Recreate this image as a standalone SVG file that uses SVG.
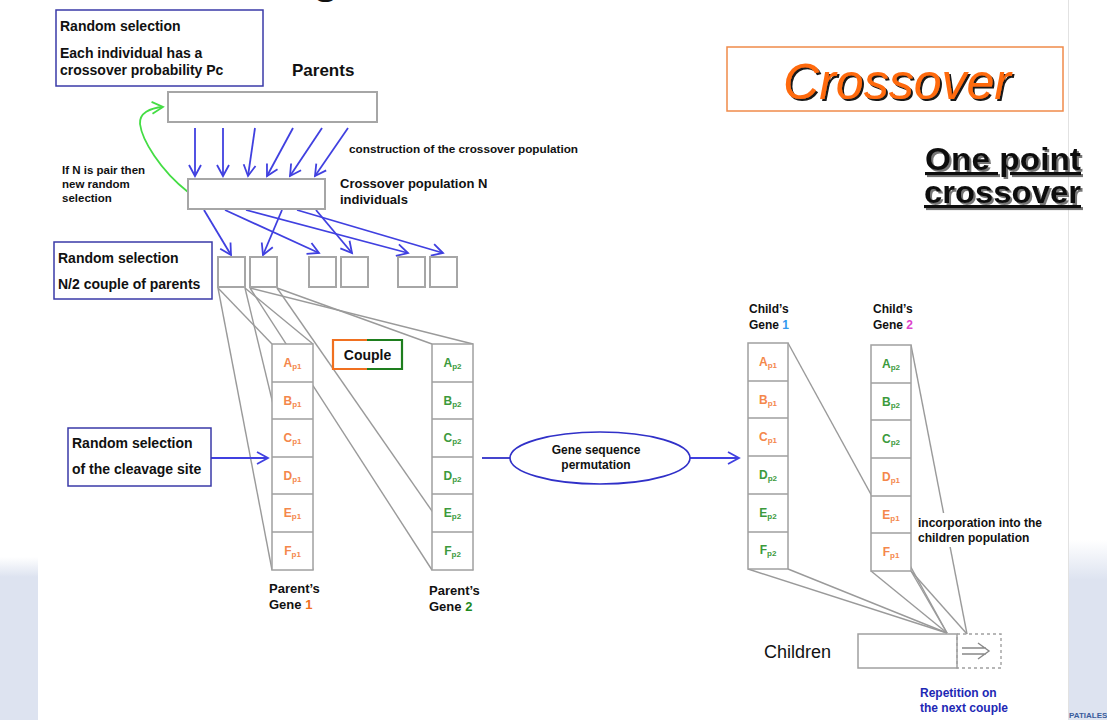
<svg xmlns="http://www.w3.org/2000/svg" width="1107" height="720" viewBox="0 0 1107 720">
  <style>
    text { font-family: "Liberation Sans", Arial, sans-serif; font-weight: bold; fill: #111; }
    .t14 { font-size: 14px; }
    .t13 { font-size: 13px; }
    .t12 { font-size: 12px; }
    .t11 { font-size: 11.5px; }
    .bluebox { fill: #fff; stroke: #3a3aa8; stroke-width: 1.5; }
    .gbox { fill: #fff; stroke: #a6a6a6; stroke-width: 2; }
    .cell { fill: #fff; stroke: #a0a0a0; stroke-width: 1.5; }
    .sep { stroke: #a0a0a0; stroke-width: 1.5; }
    .gray { stroke: #9a9a9a; stroke-width: 1.4; fill: none; }
    .blue { stroke: #4040e0; stroke-width: 1.8; fill: none; marker-end: url(#ah); }
    .p1 { fill: #f4874b; font-size: 12px; }
    .p2 { fill: #3c9a3c; font-size: 12px; }
    .sub { font-size: 8px; }
  </style>
  <defs>
    <marker id="ah" markerUnits="userSpaceOnUse" markerWidth="16" markerHeight="16" viewBox="0 0 16 16" refX="13" refY="8" orient="auto">
      <path d="M2,2 L13,8 L2,14" fill="none" stroke="#4040e0" stroke-width="1.8"/>
    </marker>
    <marker id="ahg" markerUnits="userSpaceOnUse" markerWidth="16" markerHeight="16" viewBox="0 0 16 16" refX="13" refY="8" orient="auto">
      <path d="M2,2 L13,8 L2,14" fill="none" stroke="#44dd44" stroke-width="1.8"/>
    </marker>
    <linearGradient id="fadeR" x1="0" y1="0" x2="0" y2="1">
      <stop offset="0" stop-color="#dde3f0" stop-opacity="0"/>
      <stop offset="1" stop-color="#dde3f0"/>
    </linearGradient>
    <filter id="shadowDark" x="-10%" y="-20%" width="130%" height="150%">
      <feDropShadow dx="2" dy="2" stdDeviation="0.6" flood-color="#000" flood-opacity="0.9"/>
    </filter>
    <filter id="shadowGray" x="-10%" y="-20%" width="130%" height="150%">
      <feDropShadow dx="2" dy="2" stdDeviation="0.6" flood-color="#555" flood-opacity="0.8"/>
    </filter>
  </defs>

  <!-- page background -->
  <rect width="1107" height="720" fill="#fff"/>
  <rect x="0" y="557" width="38" height="20" fill="url(#fadeR)"/>
  <rect x="0" y="577" width="38" height="143" fill="#dde3f0"/>
  <rect x="1069" y="540" width="38" height="40" fill="url(#fadeR)"/>
  <rect x="1069" y="580" width="38" height="140" fill="#dde3f0"/>
  <line x1="1068.5" y1="0" x2="1068.5" y2="720" stroke="#e2e2e2" stroke-width="1"/>
  <text x="1069" y="718" style="font-size:8px;fill:#3a5c9c">PATIALES</text>
  <text x="326" y="-7" text-anchor="middle" style="font-size:44px">g</text>

  <!-- connectors -->
  <g id="connectors">
    <!-- parents to crossover population -->
    <line class="blue" x1="195" y1="128" x2="195" y2="176"/>
    <line class="blue" x1="223" y1="128" x2="223" y2="176"/>
    <line class="blue" x1="255" y1="128" x2="248" y2="176"/>
    <line class="blue" x1="293" y1="128" x2="267" y2="176"/>
    <line class="blue" x1="322" y1="128" x2="290" y2="176"/>
    <line class="blue" x1="348" y1="128" x2="315" y2="176"/>
    <!-- new random selection loop -->
    <path d="M188,192 C160,170 142,140 140,124 C139,113 150,108 163,107" fill="none" stroke="#44dd44" stroke-width="1.8" marker-end="url(#ahg)"/>
    <!-- crossover population to couples -->
    <line class="blue" x1="204" y1="210" x2="231" y2="255"/>
    <line class="blue" x1="282" y1="210" x2="263" y2="255"/>
    <line class="blue" x1="225" y1="210" x2="319" y2="253"/>
    <line class="blue" x1="316" y1="210" x2="352" y2="253"/>
    <line class="blue" x1="246" y1="210" x2="408" y2="253"/>
    <line class="blue" x1="297" y1="210" x2="443" y2="253"/>
    <!-- couple expansion to parent genes -->
    <line class="gray" x1="218" y1="288" x2="272" y2="344"/>
    <line class="gray" x1="245" y1="288" x2="313" y2="344"/>
    <line class="gray" x1="218" y1="288" x2="272" y2="570"/>
    <line class="gray" x1="245" y1="288" x2="313" y2="570"/>
    <line class="gray" x1="250" y1="288" x2="473" y2="344"/>
    <line class="gray" x1="277" y1="288" x2="432" y2="344"/>
    <line class="gray" x1="250" y1="288" x2="432" y2="570"/>
    <line class="gray" x1="277" y1="288" x2="473" y2="570"/>
    <!-- cleavage site -->
    <line class="blue" x1="211" y1="458" x2="268" y2="458"/>
    <!-- permutation -->
    <line x1="482" y1="458" x2="510" y2="458" stroke="#3030c8" stroke-width="1.8"/>
    <line class="blue" x1="690" y1="458" x2="739" y2="458"/>
    <!-- children genes to children population -->
    <line class="gray" x1="788" y1="343" x2="947" y2="633"/>
    <line class="gray" x1="911" y1="345" x2="967" y2="634"/>
    <line class="gray" x1="748" y1="569" x2="947" y2="633"/>
    <line class="gray" x1="788" y1="569" x2="947" y2="633"/>
    <line class="gray" x1="871" y1="571" x2="947" y2="633"/>
    <line class="gray" x1="911" y1="571" x2="947" y2="633"/>
    <line class="gray" x1="911" y1="571" x2="967" y2="634"/>
  </g>

  <!-- top left note -->
  <g id="note-selection">
    <rect class="bluebox" x="56" y="10" width="207" height="76"/>
    <text class="t14" x="60" y="31">Random selection</text>
    <text class="t14" x="60" y="58">Each individual has a</text>
    <text class="t14" x="60" y="75">crossover probability Pc</text>
  </g>

  <g id="parents">
    <text x="292" y="76" style="font-size:17px">Parents</text>
    <rect class="gbox" x="168" y="92" width="209" height="30"/>
  </g>

  <g id="loop-note">
    <text class="t11" x="62" y="174">If N is pair then</text>
    <text class="t11" x="62" y="188">new random</text>
    <text class="t11" x="62" y="202">selection</text>
  </g>

  <g id="construction-note">
    <text class="t11" x="349" y="153" textLength="229" lengthAdjust="spacingAndGlyphs">construction of the crossover population</text>
  </g>

  <g id="crossover-population">
    <rect class="gbox" x="188" y="179" width="137" height="30"/>
    <text class="t13" x="340" y="188">Crossover population N</text>
    <text class="t13" x="340" y="204">individuals</text>
  </g>

  <g id="note-couples">
    <rect class="bluebox" x="54" y="242" width="158" height="57"/>
    <text class="t14" x="58" y="263">Random selection</text>
    <text class="t14" x="58" y="289">N/2 couple of parents</text>
  </g>

  <g id="couples">
    <rect class="gbox" x="218" y="257" width="27" height="30"/>
    <rect class="gbox" x="250" y="257" width="27" height="30"/>
    <rect class="gbox" x="309" y="257" width="27" height="30"/>
    <rect class="gbox" x="341" y="257" width="27" height="30"/>
    <rect class="gbox" x="398" y="257" width="27" height="30"/>
    <rect class="gbox" x="430" y="257" width="27" height="30"/>
  </g>

  <g id="couple-label">
    <rect x="333" y="340" width="69" height="29" fill="#fff"/>
    <path d="M367,340 H333 V369 H367" fill="none" stroke="#f07020" stroke-width="2.2"/>
    <path d="M367,340 H402 V369 H367" fill="none" stroke="#1e7e1e" stroke-width="2.2"/>
    <text class="t14" x="367.5" y="360" text-anchor="middle">Couple</text>
  </g>

  <g id="parent-gene-1">
    <rect class="cell" x="272" y="344" width="41" height="226"/>
    <path class="sep" d="M272,382 H313 M272,419 H313 M272,457 H313 M272,494 H313 M272,532 H313"/>
    <text class="p1" x="292.5" y="367" text-anchor="middle">A<tspan class="sub" dy="2">p1</tspan></text>
    <text class="p1" x="292.5" y="405" text-anchor="middle">B<tspan class="sub" dy="2">p1</tspan></text>
    <text class="p1" x="292.5" y="442" text-anchor="middle">C<tspan class="sub" dy="2">p1</tspan></text>
    <text class="p1" x="292.5" y="480" text-anchor="middle">D<tspan class="sub" dy="2">p1</tspan></text>
    <text class="p1" x="292.5" y="517" text-anchor="middle">E<tspan class="sub" dy="2">p1</tspan></text>
    <text class="p1" x="292.5" y="555" text-anchor="middle">F<tspan class="sub" dy="2">p1</tspan></text>
    <text class="t13" x="269" y="593">Parent’s</text>
    <text class="t13" x="269" y="609">Gene <tspan fill="#f07020">1</tspan></text>
  </g>

  <g id="parent-gene-2">
    <rect class="cell" x="432" y="344" width="41" height="226"/>
    <path class="sep" d="M432,382 H473 M432,419 H473 M432,457 H473 M432,494 H473 M432,532 H473"/>
    <text class="p2" x="452.5" y="367" text-anchor="middle">A<tspan class="sub" dy="2">p2</tspan></text>
    <text class="p2" x="452.5" y="405" text-anchor="middle">B<tspan class="sub" dy="2">p2</tspan></text>
    <text class="p2" x="452.5" y="442" text-anchor="middle">C<tspan class="sub" dy="2">p2</tspan></text>
    <text class="p2" x="452.5" y="480" text-anchor="middle">D<tspan class="sub" dy="2">p2</tspan></text>
    <text class="p2" x="452.5" y="517" text-anchor="middle">E<tspan class="sub" dy="2">p2</tspan></text>
    <text class="p2" x="452.5" y="555" text-anchor="middle">F<tspan class="sub" dy="2">p2</tspan></text>
    <text class="t13" x="429" y="595">Parent’s</text>
    <text class="t13" x="429" y="611">Gene <tspan fill="#1e8a1e">2</tspan></text>
  </g>

  <g id="note-cleavage">
    <rect class="bluebox" x="68" y="428" width="143" height="58"/>
    <text class="t14" x="72" y="448">Random selection</text>
    <text class="t14" x="72" y="474">of the cleavage site</text>
  </g>

  <g id="permutation">
    <ellipse cx="600" cy="458" rx="90" ry="26" fill="#fff" stroke="#3030c8" stroke-width="1.6"/>
    <text class="t12" x="596" y="454" text-anchor="middle">Gene sequence</text>
    <text class="t12" x="596" y="469" text-anchor="middle">permutation</text>
  </g>

  <g id="child-gene-1">
    <text class="t12" x="749" y="313">Child’s</text>
    <text class="t12" x="749" y="329">Gene <tspan fill="#3399ee">1</tspan></text>
    <rect class="cell" x="748" y="343" width="40" height="226"/>
    <path class="sep" d="M748,381 H788 M748,418 H788 M748,456 H788 M748,494 H788 M748,532 H788"/>
    <text class="p1" x="768" y="366" text-anchor="middle">A<tspan class="sub" dy="2">p1</tspan></text>
    <text class="p1" x="768" y="404" text-anchor="middle">B<tspan class="sub" dy="2">p1</tspan></text>
    <text class="p1" x="768" y="441" text-anchor="middle">C<tspan class="sub" dy="2">p1</tspan></text>
    <text class="p2" x="768" y="479" text-anchor="middle">D<tspan class="sub" dy="2">p2</tspan></text>
    <text class="p2" x="768" y="517" text-anchor="middle">E<tspan class="sub" dy="2">p2</tspan></text>
    <text class="p2" x="768" y="554" text-anchor="middle">F<tspan class="sub" dy="2">p2</tspan></text>
  </g>

  <g id="child-gene-2">
    <text class="t12" x="873" y="313">Child’s</text>
    <text class="t12" x="873" y="329">Gene <tspan fill="#dd44cc">2</tspan></text>
    <rect class="cell" x="871" y="345" width="40" height="226"/>
    <path class="sep" d="M871,383 H911 M871,420 H911 M871,458 H911 M871,496 H911 M871,533 H911"/>
    <text class="p2" x="891" y="368" text-anchor="middle">A<tspan class="sub" dy="2">p2</tspan></text>
    <text class="p2" x="891" y="406" text-anchor="middle">B<tspan class="sub" dy="2">p2</tspan></text>
    <text class="p2" x="891" y="443" text-anchor="middle">C<tspan class="sub" dy="2">p2</tspan></text>
    <text class="p1" x="891" y="481" text-anchor="middle">D<tspan class="sub" dy="2">p1</tspan></text>
    <text class="p1" x="891" y="519" text-anchor="middle">E<tspan class="sub" dy="2">p1</tspan></text>
    <text class="p1" x="891" y="556" text-anchor="middle">F<tspan class="sub" dy="2">p1</tspan></text>
  </g>

  <g id="incorporation-note">
    <rect x="915" y="513" width="142" height="34" fill="#fff"/>
    <text class="t12" x="918" y="527">incorporation into the</text>
    <text class="t12" x="918" y="542">children population</text>
  </g>

  <g id="children">
    <text x="764" y="658" style="font-size:18px;font-weight:normal">Children</text>
    <rect x="858" y="634" width="99" height="34" fill="#fff" stroke="#a0a0a0" stroke-width="1.5"/>
    <rect x="957" y="634" width="44" height="34" fill="none" stroke="#a0a0a0" stroke-width="1.4" stroke-dasharray="3,3"/>
    <path d="M962,648 H986 M962,654 H986 M978,643 L989,651 L978,659" fill="none" stroke="#888" stroke-width="1.4"/>
    <text class="t12" x="920" y="697" style="fill:#1e28b4">Repetition on</text>
    <text class="t12" x="920" y="712" style="fill:#1e28b4">the next couple</text>
  </g>

  <g id="title">
    <rect x="727" y="47" width="336" height="64" fill="#fff" stroke="#f08a4a" stroke-width="1.5"/>
    <text x="897" y="99" text-anchor="middle" filter="url(#shadowDark)" style="font-size:50px;font-style:italic;font-weight:normal;fill:#ff6a10">Crossover</text>
  </g>

  <g id="subtitle" filter="url(#shadowGray)">
    <text x="1081" y="170" text-anchor="end" textLength="156" lengthAdjust="spacingAndGlyphs" style="font-size:31px;text-decoration:underline">One point</text>
    <text x="1081" y="203" text-anchor="end" textLength="157" lengthAdjust="spacingAndGlyphs" style="font-size:31px;text-decoration:underline">crossover</text>
  </g>
</svg>
